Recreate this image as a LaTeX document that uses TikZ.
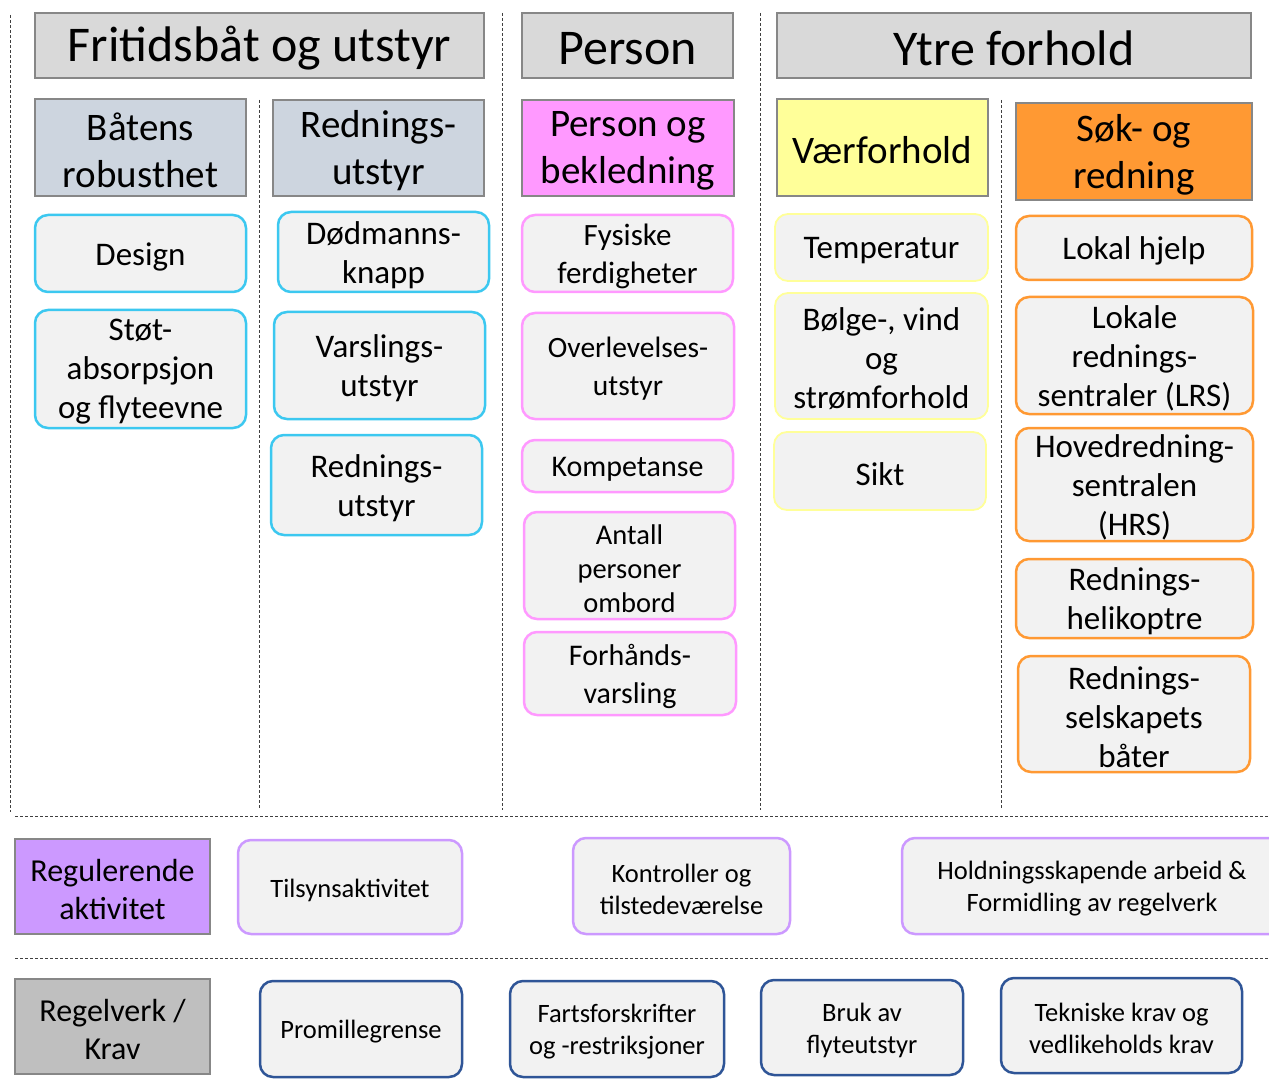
\documentclass[tikz,border=0pt]{standalone}
\usepackage{fontspec}
\setmainfont{Carlito}
\definecolor{headgray}{HTML}{D9D9D9}
\definecolor{edgegray}{HTML}{878787}
\definecolor{bluegray}{HTML}{CDD5DF}
\definecolor{pinkfill}{HTML}{FF99FF}
\definecolor{yellowfill}{HTML}{FFFF99}
\definecolor{orangefill}{HTML}{FF9933}
\definecolor{purplefill}{HTML}{CC99FF}
\definecolor{rulegray}{HTML}{BFBFBF}
\definecolor{itemfill}{HTML}{F2F2F2}
\definecolor{cyanedge}{HTML}{3CC8F0}
\definecolor{blueedge}{HTML}{2F5597}
\definecolor{dashgray}{HTML}{404040}
% box from corner (x1,y1) to corner (x2,y2), coordinates in pixels;
% the label is set as its own node, slightly below the box centre
\newcommand\bx[7]{%
  \node[#1, minimum width={(#5-#3)*1pt}, minimum height={(#6-#4)*1pt}] (#2) at ({(#3+#5)/2},{(#4+#6)/2}) {};
  \node[#1, boxtext] (#2-text) at ([yshift=-3pt]#2.center) {#7};}
\begin{document}
\begin{tikzpicture}[x=1pt,y=-1pt,
  base/.style={draw, inner sep=0pt, outer sep=0pt, align=center, text=black},
  boxtext/.style={draw=none, fill=none, minimum width=0pt, minimum height=0pt},
  head/.style={base, fill=headgray, draw=edgegray, line width=2pt, font=\fontsize{50}{58}\selectfont},
  sub/.style={base, draw=edgegray, line width=2pt, font=\fontsize{39}{47}\selectfont},
  item/.style={base, fill=itemfill, rounded corners=13pt, line width=2.5pt, font=\fontsize{33}{39}\selectfont},
  smallitem/.style={item, font=\fontsize{30}{38}\selectfont},
  lowitem/.style={item, font=\fontsize{26.5}{32}\selectfont},
  sep/.style={draw=dashgray, line width=0.9pt, dash pattern=on 3pt off 2pt},
]
\fill[white] (0,0) rectangle (1269,1083);
\useasboundingbox (0,0) rectangle (1269,1083);

% dashed separators
\draw[sep] (10,15) -- (10,812);
\draw[sep] (259,100) -- (259,808);
\draw[sep] (502,13) -- (502,810);
\draw[sep] (760,13) -- (760,810);
\draw[sep] (1001,100) -- (1001,808);
\draw[sep] (15,816) -- (1269,816);
\draw[sep] (15,958) -- (1269,958);

% main headers
\bx{head}{hboat}{35}{13}{484}{78}{Fritidsbåt og utstyr}
\bx{head}{hperson}{522}{13}{733}{78}{Person}
\bx{head}{hext}{777}{13}{1251}{78}{Ytre forhold}

% sub headers
\bx{sub, fill=bluegray}{srob}{35}{99}{246}{196}{Båtens\\robusthet}
\bx{sub, fill=bluegray}{sresc}{273}{100}{484}{196}{Rednings-\\utstyr}
\bx{sub, fill=pinkfill}{scloth}{522}{100}{734}{196}{Person og\\bekledning}
\bx{sub, fill=yellowfill}{sweather}{777}{99}{988}{196}{Værforhold}
\bx{sub, fill=orangefill}{ssar}{1016}{103}{1252}{200}{Søk- og\\redning}

% boat robustness
\bx{item, draw=cyanedge}{design}{35}{215}{246}{292}{Design}
\bx{item, draw=cyanedge}{impact}{35}{310}{246}{428}{Støt-\\absorpsjon\\og flyteevne}

% rescue equipment
\bx{item, draw=cyanedge}{deadman}{278}{212}{489}{292}{Dødmanns-\\knapp}
\bx{item, draw=cyanedge}{alert}{274}{312}{485}{419}{Varslings-\\utstyr}
\bx{item, draw=cyanedge}{rescueeq}{271}{435}{482}{535}{Rednings-\\utstyr}

% person and clothing
\bx{smallitem, draw=pinkfill, font=\fontsize{31}{38}\selectfont}{physical}{522}{215}{733}{292}{Fysiske\\ferdigheter}
\bx{smallitem, draw=pinkfill, font=\fontsize{29.5}{38}\selectfont}{survival}{522}{313}{734}{419}{Overlevelses-\\utstyr}
\bx{smallitem, draw=pinkfill}{competence}{522}{440}{733}{492}{Kompetanse}
\bx{smallitem, draw=pinkfill, font=\fontsize{28.5}{34}\selectfont}{persons}{524}{512}{735}{619}{Antall\\personer\\ombord}
\bx{smallitem, draw=pinkfill}{notice}{524}{632}{736}{715}{Forhånds-\\varsling}

% weather
\bx{item, draw=yellowfill, line width=1.8pt}{temp}{775}{214}{988}{281}{Temperatur}
\bx{item, draw=yellowfill, line width=1.8pt}{waves}{775}{293}{988}{419}{Bølge-, vind\\og\\strømforhold}
\bx{item, draw=yellowfill, line width=1.8pt}{sight}{774}{432}{986}{510}{Sikt}

% search and rescue
\bx{item, draw=orangefill}{localhelp}{1016}{216}{1252}{280}{Lokal hjelp}
\bx{item, draw=orangefill}{lrs}{1016}{297}{1253}{414}{Lokale\\rednings-\\sentraler (LRS)}
\bx{item, draw=orangefill}{hrs}{1016}{428}{1253}{541}{Hovedredning-\\sentralen\\(HRS)}
\bx{item, draw=orangefill}{heli}{1016}{559}{1253}{638}{Rednings-\\helikoptre}
\bx{item, draw=orangefill}{boats}{1018}{656}{1250}{772}{Rednings-\\selskapets\\båter}

% regulating activity
\bx{sub, fill=purplefill, font=\fontsize{32}{38}\selectfont}{reg}{15}{839}{210}{934}{Regulerende\\aktivitet}
\bx{lowitem, draw=purplefill}{inspect}{238}{840}{462}{934}{Tilsynsaktivitet}
\bx{lowitem, draw=purplefill}{control}{573}{838}{790}{934}{Kontroller og\\tilstedeværelse}
\bx{lowitem, draw=purplefill}{attitude}{902}{838}{1285}{934}{\hspace*{-3pt}Holdningsskapende arbeid \&\\\hspace*{-3pt}Formidling av regelverk}

% regulations
\bx{sub, fill=rulegray, font=\fontsize{32}{38}\selectfont}{rules}{15}{979}{210}{1074}{Regelverk /\\Krav}
\bx{lowitem, draw=blueedge}{alcohol}{260}{981}{462}{1077}{Promillegrense}
\bx{lowitem, draw=blueedge}{speed}{510}{981}{724}{1077}{Fartsforskrifter\\og -restriksjoner}
\bx{lowitem, draw=blueedge}{float}{761}{980}{963}{1075}{Bruk av\\flyteutstyr}
\bx{lowitem, draw=blueedge}{tech}{1001}{978}{1242}{1073}{Tekniske krav og\\vedlikeholds krav}
\end{tikzpicture}
\end{document}
